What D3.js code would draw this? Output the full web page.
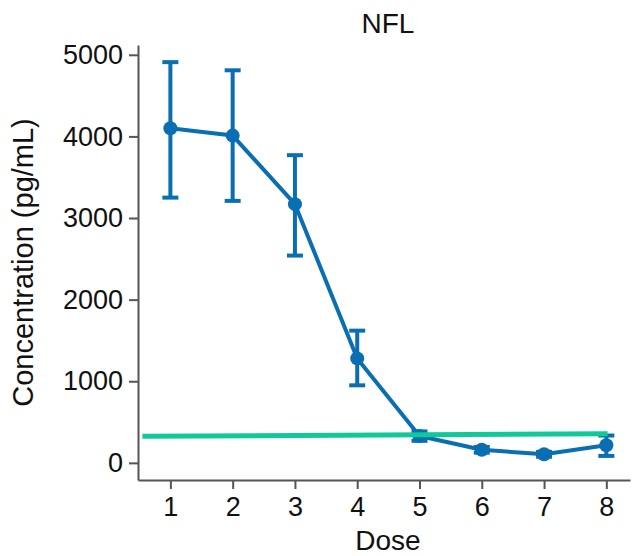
<!DOCTYPE html>
<html>
<head>
<meta charset="utf-8">
<script src="https://cdn.jsdelivr.net/npm/d3@7"></script>
<style>
  html, body { margin: 0; padding: 0; background: #fff; }
  svg { display: block; font-family: "Liberation Sans", Arial, Helvetica, sans-serif; }
</style>
</head>
<body>
<svg id="chart" width="636" height="556"></svg>
<script>
// NFL concentration by dose: mean with error bars, plus a reference line
const doses = [1, 2, 3, 4, 5, 6, 7, 8];
const means = [4100, 4010, 3170, 1280, 330, 160, 105, 215];
const upper = [4910, 4810, 3770, 1620, 385, 195, 135, 335];
const lower = [3250, 3210, 2540, 950, 270, 125, 75, 85];
const yTicks = [0, 1000, 2000, 3000, 4000, 5000];
const refX = [0.55, 8.02];
const refY = [325, 358];

const blue = "#0a6fb2";
const green = "#10c99a";
const axisColor = "#555";

const svg = d3.select("#chart");

const x = d3.scaleLinear().domain([0.48, 8.38]).range([138, 630]);
const y = d3.scaleLinear().domain([-210, 5120]).range([480, 45]);

// axes
const yAxis = svg.append("g")
  .attr("transform", `translate(${x.range()[0]},0)`)
  .call(d3.axisLeft(y).tickValues(yTicks).tickSize(9).tickSizeOuter(0).tickPadding(6).tickFormat(d3.format("d")));
const xAxis = svg.append("g")
  .attr("transform", `translate(0,${y.range()[0]})`)
  .call(d3.axisBottom(x).tickValues(doses).tickSize(9).tickSizeOuter(0).tickPadding(8).tickFormat(d3.format("d")));

[yAxis, xAxis].forEach(g => {
  g.select(".domain").attr("stroke", axisColor).attr("stroke-width", 2);
  g.selectAll(".tick line").attr("stroke", axisColor).attr("stroke-width", 2);
  g.selectAll(".tick text").attr("fill", "#111").style("font-size", "27px");
});

// error bars
const bars = svg.append("g").attr("stroke", blue).attr("stroke-width", 4).attr("fill", "none");
doses.forEach((d, i) => {
  const cx = x(d);
  bars.append("line").attr("x1", cx).attr("x2", cx).attr("y1", y(lower[i])).attr("y2", y(upper[i]));
  [lower[i], upper[i]].forEach(v => {
    bars.append("line").attr("x1", cx - 8).attr("x2", cx + 8).attr("y1", y(v)).attr("y2", y(v));
  });
});

// mean line and markers
svg.append("path")
  .datum(doses.map((d, i) => [d, means[i]]))
  .attr("fill", "none")
  .attr("stroke", blue)
  .attr("stroke-width", 4)
  .attr("stroke-linejoin", "round")
  .attr("d", d3.line().x(p => x(p[0])).y(p => y(p[1])));

svg.append("g").selectAll("circle")
  .data(doses)
  .join("circle")
  .attr("cx", d => x(d))
  .attr("cy", (d, i) => y(means[i]))
  .attr("r", 7)
  .attr("fill", blue);

// reference line
svg.append("line")
  .attr("x1", x(refX[0])).attr("x2", x(refX[1]))
  .attr("y1", y(refY[0])).attr("y2", y(refY[1]))
  .attr("stroke", green)
  .attr("stroke-width", 5);

// titles
svg.append("text")
  .attr("x", 388).attr("y", 33)
  .attr("text-anchor", "middle")
  .attr("fill", "#111")
  .style("font-size", "28px")
  .text("NFL");

svg.append("text")
  .attr("x", (x.range()[0] + x.range()[1]) / 2 + 4).attr("y", 550)
  .attr("text-anchor", "middle")
  .attr("fill", "#111")
  .style("font-size", "28px")
  .text("Dose");

svg.append("text")
  .attr("transform", `translate(33,${(y.range()[0] + y.range()[1]) / 2}) rotate(-90)`)
  .attr("text-anchor", "middle")
  .attr("fill", "#111")
  .style("font-size", "29px")
  .text("Concentration (pg/mL)");
</script>
</body>
</html>
